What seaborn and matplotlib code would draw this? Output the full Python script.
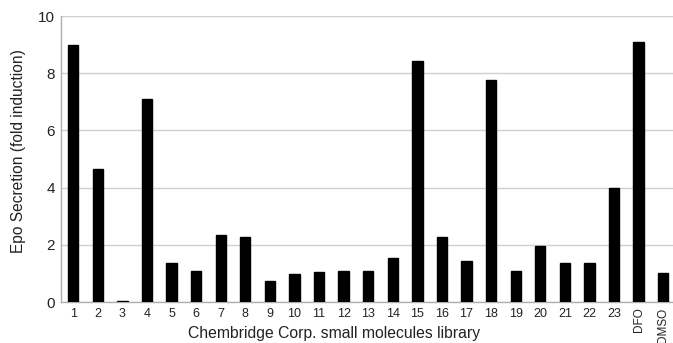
import matplotlib
matplotlib.use("Agg")
import matplotlib.pyplot as plt
import seaborn as sns
import pandas as pd

labels = [str(i) for i in range(1, 24)] + ["DFO", "DMSO"]
values = [9.0, 4.65, 0.02, 7.1, 1.37, 1.08, 2.34, 2.28, 0.73, 0.98,
          1.05, 1.1, 1.07, 1.54, 8.43, 2.27, 1.44, 7.76, 1.07, 1.96,
          1.37, 1.37, 3.99, 9.1, 1.01]

df = pd.DataFrame({"compound": labels, "fold": values})

sns.set_style("white")
plt.rcParams["font.family"] = ["Liberation Sans", "DejaVu Sans"]

fig = plt.figure(figsize=(6.73, 3.43), dpi=100)
ax = fig.add_axes([0.0906, 0.1195, 0.9094, 0.8335])

sns.barplot(data=df, x="compound", y="fold", order=labels, color="black",
            width=0.42, edgecolor="black", ax=ax, zorder=3)

ax.set_ylim(0, 10)
ax.set_xlim(-0.5, 24.4)
ax.set_yticks([0, 2, 4, 6, 8, 10])
ax.yaxis.grid(True, color="#d0d0d0", linewidth=1, zorder=0)
ax.set_axisbelow(True)

for side in ["top", "right"]:
    ax.spines[side].set_visible(False)
for side in ["left", "bottom"]:
    ax.spines[side].set_color("#b0b0b0")
    ax.spines[side].set_linewidth(1)

ax.tick_params(axis="x", length=0, labelsize=9, colors="#222222", pad=4)
ax.tick_params(axis="y", length=0, labelsize=11, colors="#222222", pad=4.5)
for lab in ax.get_xticklabels():
    if lab.get_text() in ("DFO", "DMSO"):
        lab.set_rotation(90)
        lab.set_va("top")
        lab.set_fontsize(8.5)

ax.set_xlabel("Chembridge Corp. small molecules library", fontsize=11.3,
              color="#222222", va="top")
ax.xaxis.set_label_coords(0.446, -0.085)
ax.set_ylabel("Epo Secretion (fold induction)", fontsize=11.2,
              color="#222222", va="center")
ax.yaxis.set_label_coords(-0.069, 0.528)

fig.savefig("out.png", dpi=100)
